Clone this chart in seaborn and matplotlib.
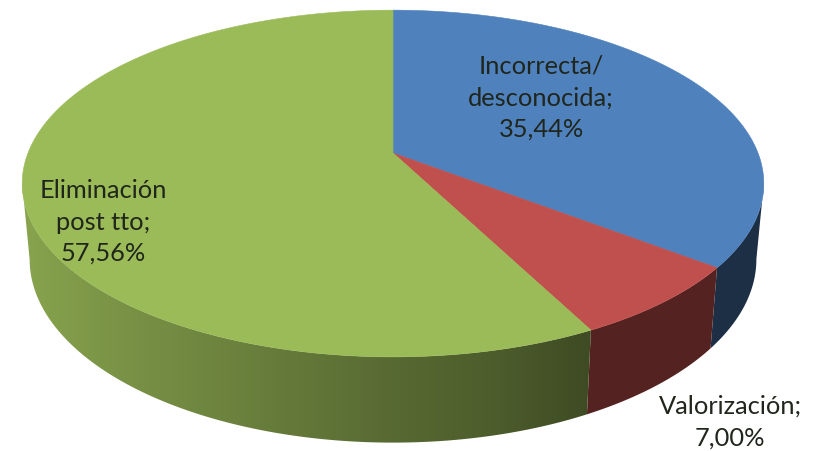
import numpy as np
import seaborn as sns
import matplotlib.pyplot as plt
from matplotlib.patches import Polygon

# values of the pie, clockwise from 12 o'clock
categories = ['Incorrecta/\ndesconocida', 'Valorización', 'Eliminación\npost tto']
values = [35.44, 7.00, 57.56]
base_colors = ['#4f81bd', '#c0504d', '#9bbb59']

label_pos = [(541, 98), (730, 422), (103, 222)]

# projection of the tilted disc (pixels)
cx, cy = 393, 153
px_a, px_b, persp = 168, 365, 0.176
shrink, depth = 0.98, 74

# darkening of the side wall, left to right across the picture
shade_x = [20, 100, 200, 300, 400, 500, 590, 720, 770]
green_shade = [0.88, 0.80, 0.72, 0.64, 0.56, 0.49, 0.40, 0.40, 0.40]
slice_shade = [0.37, 0.44, None]

sns.set_theme(style='white')
plt.rcParams['font.family'] = ['Lato', 'DejaVu Sans']


def top_point(theta):
    u, v = np.sin(theta), np.cos(theta)
    w = 1 + persp * v
    return cx + px_b * u / w, cy - px_a * v / w


def low_point(theta):
    u, v = np.sin(theta), np.cos(theta)
    w = 1 + persp * v
    return cx + shrink * px_b * u / w, cy - shrink * px_a * v / w + depth / w


fig, ax = plt.subplots(figsize=(8.19, 4.51), dpi=100)
fig.subplots_adjust(0, 0, 1, 1)
ax.axis('off')

edges = np.deg2rad(np.concatenate([[0], np.cumsum(values)]) * 3.6)
palette = sns.color_palette(base_colors)

# angle where the rim is widest, the wall is only visible between these
rim_edge = np.arccos(-persp)

# side wall: horizontal gradient clipped to the visible part of each slice
grad_x = np.arange(0, 819)
for start, end, color, shade in zip(edges[:-1], edges[1:], palette, slice_shade):
    lo, hi = max(start, rim_edge), min(end, 2 * np.pi - rim_edge)
    t = np.linspace(lo, hi, 200)
    xt, yt = top_point(t)
    xl, yl = low_point(t[::-1])
    outline = np.column_stack([np.r_[xt, xl], np.r_[yt, yl]])
    f = np.interp(grad_x, shade_x, green_shade) if shade is None else np.full(819, shade)
    strip = (np.array(color)[None, None, :] * f[None, :, None])
    im = ax.imshow(strip, extent=[0, 819, 451, 0], aspect='auto',
                   interpolation='bilinear', zorder=1)
    im.set_clip_path(Polygon(outline, closed=True, transform=ax.transData))

# top face
for start, end, color in zip(edges[:-1], edges[1:], palette):
    t = np.linspace(start, end, 200)
    x, y = top_point(t)
    ax.fill(np.r_[cx, x], np.r_[cy, y], color=color, lw=0.4, zorder=2)

for cat, val, (lx, ly) in zip(categories, values, label_pos):
    txt = f"{cat};\n{val:.2f}%".replace('.', ',')
    ax.text(lx, ly, txt, ha='center', va='center', fontsize=18.3,
            color='#20261c', linespacing=1.45, zorder=3)

ax.set_xlim(0, 819)
ax.set_ylim(451, 0)
plt.savefig('out.png', dpi=100)
